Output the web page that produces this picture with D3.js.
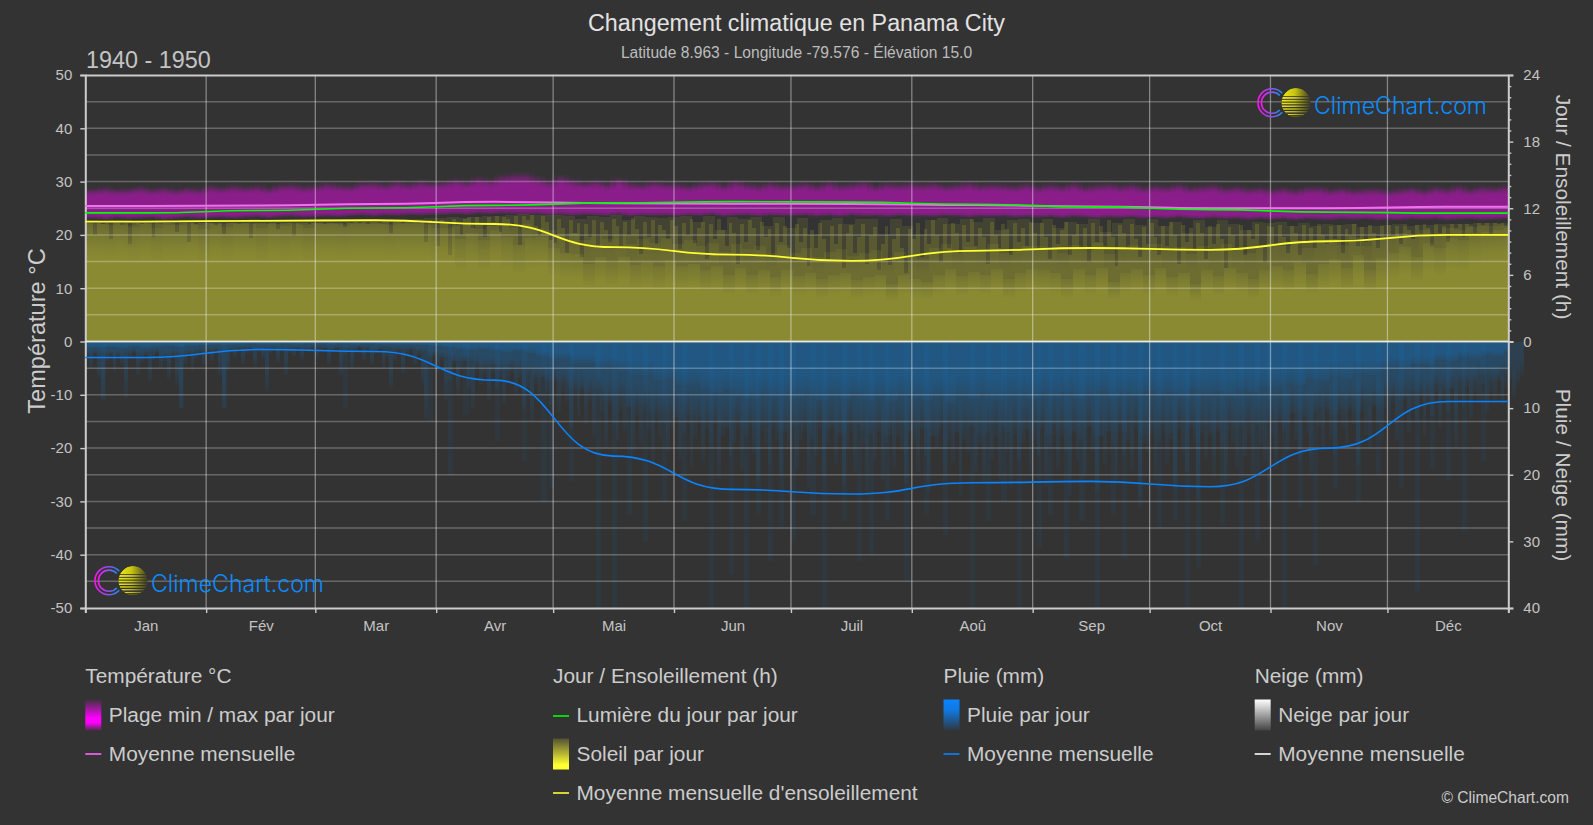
<!DOCTYPE html>
<html lang="fr"><head><meta charset="utf-8">
<title>Changement climatique en Panama City</title>
<script src="https://cdn.jsdelivr.net/npm/d3@7/dist/d3.min.js"></script>
<style>
html,body{margin:0;padding:0;background:#333;overflow:hidden}
svg{display:block}
text{font-family:"Liberation Sans",Arial,sans-serif}
</style></head><body><svg id="c" width="1593" height="825"></svg>
<script>
// ---------- data ----------
const months=["Jan","Fév","Mar","Avr","Mai","Jun","Juil","Aoû","Sep","Oct","Nov","Déc"];
const monthStart=[0,31,59,90,120,151,181,212,243,273,304,334,365];
const tempTicks=[50,40,30,20,10,0,-10,-20,-30,-40,-50];
const tempGrid=[45,35,25,15,5,-5,-15,-25,-35,-45];
const hourTicks=[0,6,12,18,24];
const hourMinor=[1,2,3,4,5,7,8,9,10,11,13,14,15,16,17,19,20,21,22,23];
const rainTicks=[10,20,30,40];

// monthly means (knots at mid-month)
const midMonth=[15.5,45,74.5,105,135.5,166,196.5,227.5,258,288.5,319,349.5];
const tempMean=[25.4,25.5,25.8,26.2,25.95,25.85,25.8,25.6,25.35,25.0,25.0,25.3];
const daylightMean=[11.58,11.8,12.02,12.26,12.48,12.6,12.55,12.36,12.12,11.88,11.65,11.56];
const sunMean=[10.8,10.87,10.92,10.58,8.5,7.82,7.26,8.17,8.42,8.26,9.03,9.6];
const rainMean=[2.4,1.2,1.5,5.8,17.2,22.2,22.9,21.2,21,21.8,16,9];
const snowMean=[0,0,0,0,0,0,0,0,0,0,0,0];

// three-day bins, 122 values
const tempMax=[
29.0,29.3,28.9,29.1,29.4,29.0,29.3,28.9,29.2,29.0,
29.6,29.3,29.7,29.4,29.6,29.2,29.8,29.9,29.5,
29.7,30.1,29.8,29.6,30.2,30.3,29.9,30.4,30.0,30.5,30.2,
30.4,30.9,30.5,31.2,30.8,31.6,31.9,32.0,31.3,30.6,
31.5,30.9,30.3,30.6,30.1,31.0,30.2,29.9,30.4,30.1,
30.0,29.6,30.1,30.4,29.8,30.6,30.0,29.7,30.2,29.8,
29.9,30.2,29.7,30.3,29.8,30.0,30.4,29.6,30.1,29.9,30.2,
29.9,30.2,29.6,29.9,30.3,29.7,30.0,29.8,29.6,30.0,
29.5,29.9,29.6,30.1,29.4,29.8,30.0,29.6,29.9,29.4,
29.7,29.5,29.9,29.3,29.6,29.8,29.2,29.5,29.1,29.3,
28.9,29.2,28.8,29.3,29.4,28.9,29.2,28.8,29.0,29.1,
28.7,29.0,29.3,28.8,29.4,29.1,29.6,29.0,29.5,29.3,29.6];
const tempMin=[
23.0,22.8,23.1,22.9,23.0,23.1,22.8,23.0,23.2,23.0,
23.1,23.2,23.0,23.2,23.3,23.1,23.3,23.4,23.2,
23.3,23.4,23.3,23.5,23.6,23.4,23.6,23.5,23.7,23.6,23.7,
23.7,23.8,23.7,23.9,23.8,23.9,23.8,23.7,23.8,23.6,
23.7,23.5,23.7,23.6,23.5,23.7,23.4,23.6,23.5,23.6,
23.4,23.6,23.5,23.7,23.4,23.5,23.6,23.4,23.6,23.5,
23.5,23.6,23.4,23.5,23.3,23.6,23.4,23.5,23.3,23.5,23.4,
23.4,23.3,23.5,23.4,23.2,23.4,23.3,23.4,23.2,23.3,
23.2,23.3,23.1,23.3,23.2,23.0,23.2,23.1,23.2,23.0,
23.1,23.0,23.2,23.0,22.9,23.1,22.9,23.0,22.8,23.0,
22.8,22.9,22.7,22.9,22.8,22.7,22.9,22.8,22.9,22.7,
22.8,22.7,22.9,22.8,22.9,22.7,22.8,22.9,22.7,22.8,22.9];

const sunTop=[
10.9,10.8,10.9,10.9,10.8,10.9,10.9,10.8,10.9,10.9,
10.9,10.9,10.8,10.9,11.0,10.9,10.9,10.9,10.9,
10.9,11.0,10.9,10.9,11.0,11.0,10.9,11.0,11.0,11.0,11.1,
11.1,11.2,11.1,11.2,11.3,11.3,11.4,11.5,11.4,11.4,
11.4,11.3,11.0,11.3,11.2,11.4,10.9,11.3,11.2,11.1,
11.2,11.3,10.8,11.3,10.0,11.2,11.0,11.2,10.4,11.2,
10.2,11.1,9.6,10.9,11.1,10.6,11.0,11.0,9.6,11.0,10.4,
9.6,10.9,11.1,10.6,11.0,10.8,11.1,10.0,10.9,11.0,
10.7,11.0,10.2,10.8,10.6,11.0,9.9,10.7,11.0,10.5,
11.0,10.4,10.8,9.8,10.9,10.3,10.9,10.6,10.0,10.8,
10.7,10.8,10.4,10.7,10.4,10.6,10.5,10.6,10.3,10.4,
10.5,10.6,10.4,10.5,10.5,10.6,10.6,10.6,10.7,10.7,10.7];
const sunMid=[
10.7,10.6,10.7,10.5,10.7,10.6,10.7,10.6,10.7,10.5,
10.7,10.6,10.7,10.7,10.6,10.7,10.6,10.7,10.5,
10.7,10.7,10.6,10.7,10.7,10.7,10.6,10.7,10.7,10.7,10.5,
10.6,10.4,10.5,10.1,10.4,10.5,10.2,10.6,10.2,10.0,
9.7,9.8,9.1,9.5,9.2,9.6,8.8,9.2,8.9,9.3,
8.8,9.1,8.6,8.9,8.1,8.8,8.3,8.6,8.0,8.7,
8.0,8.4,7.6,8.1,8.3,7.7,8.0,8.2,7.4,8.1,7.7,
7.4,8.4,8.8,8.1,8.5,8.3,8.8,8.0,8.4,8.6,
8.6,8.4,8.0,8.7,8.3,8.9,7.9,8.5,8.7,8.4,
8.8,8.2,8.5,7.9,8.6,8.2,8.8,8.4,8.0,8.6,
8.9,8.6,9.1,8.4,8.9,9.2,8.7,9.4,8.6,9.3,
9.5,9.8,9.3,10.0,9.7,10.2,10.0,10.3,10.4,10.4,10.5];
const sunFull=[
10.6,10.5,10.6,10.3,10.6,10.2,10.5,10.5,10.6,10.1,
10.6,10.3,10.6,10.6,10.2,10.6,10.4,10.6,10.2,
10.6,10.6,10.5,10.6,10.6,10.6,10.5,10.6,10.6,10.6,10.2,
10.2,9.2,9.8,9.1,10.0,9.4,8.7,9.3,9.4,8.4,
8.0,7.9,7.0,7.6,7.2,7.6,6.9,7.2,6.8,7.3,
6.8,7.0,6.4,6.8,6.0,6.6,6.0,6.4,5.8,6.4,
5.9,6.2,5.6,6.0,6.2,5.5,5.8,6.0,5.2,6.0,5.6,
5.4,6.0,6.5,5.9,6.3,6.0,6.5,5.6,6.2,6.5,
6.4,6.2,5.6,6.5,6.0,6.6,5.4,6.2,6.5,6.0,
6.6,5.8,6.2,5.2,6.4,5.9,6.6,6.2,5.6,6.4,
6.8,6.4,7.2,6.1,7.0,7.4,6.6,7.8,6.4,7.5,
8.0,8.5,7.6,8.9,8.4,9.3,9.1,9.7,9.9,10.0,10.2];
// one value per day (365)
const sunDaily=[
10.7,10.7,9.6,10.7,10.6,10.7,9.2,10.7,10.7,10.5,10.7,8.8,10.7,10.7,10.6,10.7,10.7,9.4,10.7,10.6,10.7,10.7,10.7,9.9,10.7,10.7,9.0,10.7,10.6,10.7,10.7,
10.7,10.7,10.5,10.7,9.7,10.7,10.7,10.7,10.6,10.7,10.7,9.3,10.7,10.7,10.7,10.6,10.7,10.7,10.1,10.7,10.7,10.7,9.5,10.7,10.7,10.7,10.6,
10.7,10.7,10.7,10.6,10.7,10.7,10.7,10.7,10.3,10.7,10.7,10.8,10.7,10.8,10.6,10.8,10.8,10.7,10.8,10.8,9.8,10.8,10.8,10.7,10.8,10.8,10.8,10.7,10.8,9.0,10.9,10.8,
8.6,10.9,10.8,7.8,11.0,10.5,9.6,11.0,11.2,10.2,11.2,10.7,9.4,11.2,10.8,11.3,9.9,11.2,11.0,10.4,11.3,8.7,11.3,10.9,11.4,10.4,9.5,11.3,10.8,9.1,
8.9,11.0,10.2,8.0,10.9,9.8,10.7,7.6,10.6,9.4,10.9,8.4,10.8,10.0,9.0,11.0,10.4,8.6,10.8,9.6,11.1,10.1,7.9,10.8,9.4,10.9,8.8,10.5,10.0,9.2,10.9,
10.4,8.3,10.7,9.6,11.0,8.9,10.2,10.8,7.4,10.6,9.2,11.0,10.0,8.6,10.7,9.8,7.0,10.6,9.0,10.9,10.2,8.2,10.8,9.4,10.1,7.6,10.7,9.0,10.4,8.4,
7.6,10.6,9.0,10.2,6.8,10.0,8.4,10.7,9.2,7.4,10.4,8.8,10.6,6.6,9.8,10.5,8.0,9.4,10.6,7.0,9.6,10.3,6.4,8.8,10.4,6.9,9.2,10.2,8.4,6.2,10.1,
9.2,10.7,7.6,10.1,8.8,10.9,9.6,7.2,10.6,8.4,10.7,9.8,8.0,10.5,9.0,11.0,8.6,10.2,9.4,7.0,10.8,9.6,8.4,10.6,10.1,7.8,10.7,9.0,10.2,8.6,10.8,
9.8,8.2,10.7,9.4,7.4,10.5,8.8,10.0,10.8,7.8,9.6,10.6,8.4,10.2,7.2,10.7,9.0,10.4,8.6,10.9,9.4,6.8,10.5,9.8,8.2,10.6,9.2,7.6,10.3,8.8,
10.7,9.4,7.8,10.4,8.6,10.8,9.6,7.0,10.5,9.0,10.2,8.2,10.7,9.8,7.4,10.4,8.8,10.6,9.2,6.6,10.3,9.6,8.4,10.5,7.8,10.0,9.2,10.6,8.6,7.2,10.4,
10.3,8.6,10.5,9.4,8.0,10.4,9.8,7.8,10.5,9.0,10.2,8.4,10.6,9.6,8.8,10.4,9.2,10.5,8.0,10.1,9.6,10.6,8.6,10.3,9.0,10.5,9.8,8.4,10.4,9.4,
10.5,9.6,10.4,8.8,10.6,10.0,9.2,10.5,9.4,10.6,10.2,8.6,10.6,9.8,10.4,9.0,10.6,10.2,10.6,9.4,10.6,10.4,9.8,10.7,10.5,10.7,9.6,10.7,10.6,10.7,10.4];

const rainFull=[
1.0,0.9,1.0,0.8,1.0,0.8,0.7,0.9,0.7,0.6,
0.5,0.6,0.5,0.4,0.5,0.5,0.4,0.5,0.4,
0.4,0.5,0.4,0.5,0.4,0.5,0.5,0.5,0.5,0.6,0.7,
0.9,1.1,1.3,1.1,1.4,1.6,1.4,1.7,2.2,2.6,
2.6,3.2,3.2,4.0,3.8,4.5,5.0,5.0,5.8,5.6,
6.6,6.4,7.2,7.8,7.2,8.2,8.6,7.8,8.4,8.2,
8.4,7.8,8.8,8.2,8.6,7.8,8.8,8.2,9.0,8.0,8.4,
8.8,8.2,9.2,8.0,8.6,7.8,8.8,8.2,8.0,8.6,
7.8,8.4,7.6,8.6,8.0,7.4,8.4,7.8,8.2,7.4,
8.0,7.6,8.4,7.2,7.8,7.4,8.2,7.2,7.6,6.8,
6.8,6.2,6.6,5.6,6.0,5.2,5.6,4.8,5.0,4.4,
3.8,4.2,3.4,3.6,2.8,3.0,2.4,2.6,2.0,2.2,1.6];
const rainMid=[
2.0,1.9,2.2,1.7,2.0,1.6,2.2,1.8,1.8,1.4,
1.3,1.5,1.2,1.0,1.4,1.1,1.2,1.0,1.1,
0.9,1.2,1.0,1.1,0.9,1.3,1.0,1.2,1.2,1.5,2.0,
2.4,3.0,3.0,3.8,3.6,4.4,3.8,4.4,5.4,6.0,
6.0,7.0,7.8,7.2,8.8,8.4,9.8,9.6,10.8,10.4,
11.6,11.0,12.4,11.8,13.0,11.8,13.2,12.6,12.2,13.4,
12.6,13.6,12.0,13.0,13.8,12.4,13.4,12.8,14.0,12.6,13.4,
13.0,14.2,12.4,13.6,12.8,14.0,12.6,13.6,13.0,13.4,
12.4,14.0,13.2,13.8,12.8,14.2,13.4,13.6,12.2,14.0,
13.0,13.8,12.0,13.2,12.6,13.6,12.0,12.8,11.6,12.4,
11.6,12.4,10.8,11.8,9.8,11.0,10.2,10.6,9.0,10.0,
8.4,8.8,7.4,8.0,6.4,7.0,5.8,6.0,5.0,5.6,4.4];
// one value per day (365)
const rainDaily=[
2.5,4.0,1.8,5.5,8.5,3.0,2.2,4.6,2.0,3.5,8.5,2.6,1.6,5.0,3.2,2.0,6.0,2.8,1.8,4.2,3.0,5.6,2.4,6.5,10.0,3.4,2.0,4.4,2.6,1.8,3.6,
1.6,3.0,1.4,5.0,10.0,4.5,1.6,2.4,1.2,3.4,1.8,1.4,3.8,1.6,2.6,7.5,1.8,1.2,3.2,1.4,5.0,1.8,2.2,1.2,2.8,1.4,1.8,
1.2,2.6,1.4,1.0,3.4,1.6,1.2,5.0,2.0,1.4,4.2,1.6,1.0,2.8,1.4,3.6,1.8,1.2,4.0,2.4,7.0,3.0,1.6,4.8,2.2,1.4,3.6,2.0,6.4,11.5,3.4,2.4,
4.6,2.8,9.0,6.0,3.4,8.0,4.2,3.0,7.0,10.0,3.8,6.4,5.0,8.8,4.6,7.2,5.4,9.4,6.0,4.8,8.0,5.6,10.2,7.0,12.0,6.4,8.8,5.4,7.6,9.6,
6.0,10.6,7.6,9.0,13.0,8.2,11.4,7.2,12.4,9.0,14.2,8.6,10.8,16.0,9.6,12.6,15.0,10.4,13.4,9.8,17.0,11.2,15.4,10.4,13.2,18.4,11.6,14.4,12.2,16.4,13.0,
11.4,17.6,13.8,12.2,19.0,14.6,11.8,18.2,13.2,15.8,12.4,20.6,14.2,12.8,17.4,15.2,13.0,19.4,14.4,12.2,16.8,21.0,13.4,15.6,18.6,12.8,14.8,20.0,13.6,16.2,
13.0,19.2,15.0,12.6,22.0,14.6,17.0,13.2,20.4,15.6,12.8,18.4,14.2,21.6,16.0,13.4,19.8,12.6,15.4,22.8,14.0,17.8,13.6,20.8,15.2,12.8,18.8,14.4,16.4,21.2,13.4,
15.2,19.6,13.2,17.2,22.4,14.2,16.0,12.8,20.2,15.0,18.2,13.8,23.0,14.8,16.8,12.6,19.8,15.6,21.4,13.6,17.6,14.4,20.6,12.8,16.2,22.2,14.0,18.0,15.4,13.2,20.4,
14.6,17.4,13.0,21.8,15.8,12.4,19.2,14.2,16.6,23.2,13.4,17.8,15.0,20.0,12.8,16.4,22.6,14.4,18.6,13.6,15.8,21.0,12.6,17.0,14.8,19.4,13.2,23.4,15.4,16.6,
13.8,20.8,15.0,12.4,18.4,14.6,22.0,13.2,16.8,19.6,12.6,15.4,23.6,13.8,17.6,14.2,20.4,12.8,16.0,21.8,13.4,15.2,18.8,12.2,17.2,14.0,20.0,12.6,15.6,18.0,11.8,
14.4,19.2,11.6,13.4,16.6,10.8,15.0,18.0,11.4,13.8,20.0,10.6,12.8,16.0,10.2,14.6,17.4,11.0,13.0,15.2,9.8,12.4,18.6,10.4,14.0,16.2,9.6,12.2,14.8,10.0,
12.6,9.2,15.0,11.0,8.4,13.6,9.8,12.0,8.0,14.4,9.4,11.2,7.6,12.8,8.6,10.4,7.2,15.8,8.2,9.8,6.8,11.6,7.8,9.2,6.4,10.8,7.4,8.8,6.0,9.6,7.0,5.6,8.4,6.2,5.0];
// isolated wet days, [day, mm]
const rainSpikes=[[4,9],[24,10],[35,10],[66,10],[88,12],[93,20],[97,11],[105,15],[112,18],[117,24],[119,22],[124,21],[131,40],[135,40],[139,26],[143,30],
[148,24],[153,27],[160,40],[165,35],[169,40],[172,26],[175,33],[178,28],[181,30],[186,26],[189,40],[194,27],[198,33],[201,32],[205,27],[210,36],[215,26],[220,29],[227,40],[231,27],[235,24],
[239,40],[244,31],[247,26],[251,32.5],[255,27],[259,40],[263,26],[266,32.5],[270,25],[275,28],[279,27],[282,40],[285,34],[291,27.5],[296,40],[300,30],[303,25],[307,40],[311,25],[315,33.5],[320,22],[326,24],[331,20],[337,22],[341,37.5],[345,19],[349,21],[353,28.5],[358,18]];

// ---------- geometry ----------
const W=1593,H=825,L=85.3,R=1508.3,T=75,B=608;
const svg=d3.select("#c");
const x=d3.scaleLinear().domain([0,365]).range([L,R]);
const yT=d3.scaleLinear().domain([-50,50]).range([B,T]);
const yH=d3.scaleLinear().domain([0,24]).range([yT(0),T]);
const yR=d3.scaleLinear().domain([0,40]).range([yT(0),B]);
const binDay=(i,o)=>i===0?0:Math.max(0,Math.min(i*365/122+o,365));

svg.append("rect").attr("width",W).attr("height",H).attr("fill","#333");

const defs=svg.append("defs");
function grad(id,stops,horizontal){
  const g=defs.append("linearGradient").attr("id",id).attr("x1",0).attr("y1",0)
    .attr("x2",horizontal?1:0).attr("y2",horizontal?0:1);
  stops.forEach(s=>g.append("stop").attr("offset",s[0]).attr("stop-color",s[1]).attr("stop-opacity",s[2]));
}
const rainColor="#0a86e8", sunColor="#ffff33";
grad("tempBand",[[0,"#ff00ff",0],[.08,"#ff00ff",.05],[.17,"#ff00ff",.15],[.24,"#ff00ff",.22],[.31,"#ff00ff",.245],[.88,"#ff00ff",.245],[.95,"#ff00ff",.13],[1,"#ff00ff",.01]]);
grad("sunFullFade",[[0,sunColor,.05],[.3,sunColor,.2],[1,sunColor,.2]]);
grad("sunMidFade",[[0,sunColor,.06],[.2,sunColor,.12],[1,sunColor,.12]]);
grad("rainFullFade",[[0,rainColor,.22],[.6,rainColor,.22],[1,rainColor,.05]]);
grad("rainMidFade",[[0,rainColor,.14],[.65,rainColor,.14],[1,rainColor,.03]]);
grad("rainDayFade",[[0,rainColor,.16],[.55,rainColor,.15],[1,rainColor,.05]]);
grad("lgTemp",[[0,"#ff00ff",.05],[.6,"#ff00ff",1],[.75,"#ff00ff",1],[1,"#ff00ff",.1]]);
grad("lgSun",[[0,"#ffff33",.15],[.85,"#ffff33",1],[1,"#ffff33",1]]);
grad("lgRain",[[0,"#0a84ff",1],[.35,"#0a84ff",.85],[1,"#0a84ff",.05]]);
grad("lgSnow",[[0,"#ffffff",1],[1,"#ffffff",.08]]);
grad("cRing",[[0,"#ff10f0",1],[.55,"#9050f0",1],[1,"#1890f0",1]],true);
grad("sunDisc",[[0,"#f2ec10",1],[.45,"#c8c414",1],[1,"#3e3c22",1]],true);

// ---------- daily bars ----------
const plot=svg.append("g").attr("shape-rendering","crispEdges");
function binLayer(values,fill,opacity,o,sc,down){
  plot.append("g").selectAll("rect").data(values).join("rect")
    .attr("x",(d,i)=>x(binDay(i,o))).attr("width",(d,i)=>x(binDay(i+1,o))-x(binDay(i,o)))
    .attr("y",d=>down?sc(0):sc(d)).attr("height",d=>Math.abs(sc(d)-sc(0)))
    .attr("fill",fill).attr("fill-opacity",opacity);
}
function dayLayer(values,fill,opacity,sc,down){
  plot.append("g").selectAll("rect").data(values).join("rect")
    .attr("x",(d,i)=>x(i)).attr("width",(d,i)=>x(i+1)-x(i))
    .attr("y",d=>down?sc(0):sc(d)).attr("height",d=>Math.abs(sc(d)-sc(0)))
    .attr("fill",fill).attr("fill-opacity",opacity);
}
// temperature, drawn twice half a bin apart to soften the steps
[0,1.5].forEach(o=>{
  plot.append("g").selectAll("rect").data(tempMax).join("rect")
    .attr("x",(d,i)=>x(binDay(i,o))).attr("width",(d,i)=>x(binDay(i+1,o))-x(binDay(i,o)))
    .attr("y",d=>yT(d)).attr("height",(d,i)=>yT(tempMin[i])-yT(d))
    .attr("fill","url(#tempBand)");
});
// sun
binLayer(sunTop,sunColor,.08,0,yH);
dayLayer(sunDaily,sunColor,.12,yH);
binLayer(sunMid,"url(#sunMidFade)",1,1,yH);
binLayer(sunFull,"url(#sunFullFade)",1,2,yH);
// rain
plot.append("g").selectAll("rect").data(rainSpikes).join("rect")
  .attr("x",d=>x(d[0])).attr("width",x(1.3)-x(0))
  .attr("y",yR(0)).attr("height",d=>yR(d[1])-yR(0))
  .attr("fill",rainColor).attr("fill-opacity",.07);
dayLayer(rainDaily,"url(#rainDayFade)",1,yR,true);
binLayer(rainMid,"url(#rainMidFade)",1,1,yR,true);
binLayer(rainFull,"url(#rainFullFade)",1,2,yR,true);

// ---------- grid ----------
const grid=svg.append("g");
grid.selectAll("line.h").data(tempTicks.concat(tempGrid).filter(d=>Math.abs(d)<50&&d!==0)).join("line")
  .attr("x1",L).attr("x2",R).attr("y1",d=>yT(d)).attr("y2",d=>yT(d))
  .attr("stroke","#fff").attr("stroke-opacity",.26).attr("stroke-width",1.5);
grid.selectAll("line.v").data(monthStart.slice(1,12)).join("line")
  .attr("x1",d=>x(d)).attr("x2",d=>x(d)).attr("y1",T).attr("y2",B)
  .attr("stroke","#fff").attr("stroke-opacity",.4).attr("stroke-width",1.3);

// ---------- axes ----------
function styleAxis(g){
  g.select(".domain").attr("stroke","#ccc").attr("stroke-width",2);
  g.selectAll(".tick line").attr("stroke","#ccc").attr("stroke-width",1.4);
  g.selectAll(".tick text").attr("fill","#c4c4c4").attr("font-size",15)
    .attr("font-family",'"Liberation Sans",Arial,sans-serif');
}
const axisL=svg.append("g").attr("transform",`translate(${L},0)`)
  .call(d3.axisLeft(yT).tickValues(tempTicks).tickSize(5).tickPadding(8).tickFormat(d3.format("d")));
styleAxis(axisL); axisL.selectAll(".tick text").text(d=>String(d));
const axisH=svg.append("g").attr("transform",`translate(${R},0)`)
  .call(d3.axisRight(yH).tickValues(hourTicks).tickSize(5).tickPadding(10));
styleAxis(axisH);
const axisHm=svg.append("g").attr("transform",`translate(${R},0)`)
  .call(d3.axisRight(yH).tickValues(hourMinor).tickSize(3).tickFormat(""));
styleAxis(axisHm); axisHm.select(".domain").remove();
const axisRn=svg.append("g").attr("transform",`translate(${R},0)`)
  .call(d3.axisRight(yR).tickValues(rainTicks).tickSize(5).tickPadding(10));
styleAxis(axisRn);
const axisB=svg.append("g").attr("transform",`translate(0,${B})`)
  .call(d3.axisBottom(x).tickValues(monthStart).tickSize(5).tickFormat(""));
styleAxis(axisB);
const monthMid=months.map((m,i)=>(monthStart[i]+monthStart[i+1])/2);
const axisM=svg.append("g").attr("transform",`translate(0,${B})`)
  .call(d3.axisBottom(x).tickValues(monthMid).tickSize(0).tickFormat((d,i)=>months[i]));
styleAxis(axisM); axisM.select(".domain").remove();
axisM.selectAll(".tick text").attr("dy","0.71em").attr("y",12);
const axisTop=svg.append("g").attr("transform",`translate(0,${T})`)
  .call(d3.axisTop(x).tickValues([]).tickSize(0));
styleAxis(axisTop);
svg.append("line").attr("x1",L).attr("x2",R).attr("y1",yT(0)).attr("y2",yT(0))
  .attr("stroke","#d4d4cc").attr("stroke-width",2.2);

// ---------- monthly mean lines ----------
function meanLine(values,y,color,w){
  const pts=[[0,values[0]]].concat(values.map((v,i)=>[midMonth[i],v]),[[365,values[11]]]);
  const gen=d3.line().x(d=>x(d[0])).y(d=>y(d[1])).curve(d3.curveBumpX);
  svg.append("path").attr("d",gen(pts)).attr("fill","none").attr("stroke",color).attr("stroke-width",w);
}
meanLine(snowMean,yR,"#e8e8e0",1.2);
meanLine(tempMean,yT,"#f070f0",2);
meanLine(daylightMean,yH,"#00ff00",1.6);
meanLine(sunMean,yH,"#ffff33",1.8);
meanLine(rainMean,yR,"#0a84ff",1.6);

// ---------- titles ----------
function label(txt,px,py,size,fill,anchor,rot){
  const t=svg.append("text").text(txt).attr("font-size",size).attr("fill",fill)
    .attr("text-anchor",anchor||"start");
  if(rot) t.attr("transform",`translate(${px},${py}) rotate(${rot})`);
  else t.attr("x",px).attr("y",py);
  return t;
}
label("Changement climatique en Panama City",796.5,30.5,23.3,"#e2e2e2","middle");
label("Latitude 8.963 - Longitude -79.576 - Élévation 15.0",796.5,57.5,15.6,"#bdbdbd","middle");
label("1940 - 1950",86,68,23.4,"#c4c4c4");
label("Température °C",45,331,23.6,"#ccc","middle",-90);
label("Jour / Ensoleillement (h)",1555.5,207,20.85,"#ccc","middle",90);
label("Pluie / Neige (mm)",1555.5,475,20.85,"#ccc","middle",90);

// ---------- legend ----------
const ink="#ccc";
function head(t,px){label(t,px,683,20.85,ink);}
function item(t,px,cy){label(t,px+23.5,cy+7,20.85,ink);}
function swatch(px,cy,id){svg.append("rect").attr("x",px).attr("y",cy-15.5).attr("width",16).attr("height",31).attr("fill",`url(#${id})`);}
function dash(px,cy,c){svg.append("line").attr("x1",px).attr("x2",px+16).attr("y1",cy).attr("y2",cy).attr("stroke",c).attr("stroke-width",1.6);}
const c1=85.3,c2=553,c3=943.5,c4=1254.7;
head("Température °C",c1); swatch(c1,715,"lgTemp"); item("Plage min / max par jour",c1,715);
dash(c1,754,"#ff66ff"); item("Moyenne mensuelle",c1,754);
head("Jour / Ensoleillement (h)",c2); dash(c2,716,"#00ff00"); item("Lumière du jour par jour",c2,715);
swatch(c2,754,"lgSun"); item("Soleil par jour",c2,754);
dash(c2,793,"#ffff33"); item("Moyenne mensuelle d'ensoleillement",c2,793);
head("Pluie (mm)",c3); swatch(c3,715,"lgRain"); item("Pluie par jour",c3,715);
dash(c3,754,"#0a84ff"); item("Moyenne mensuelle",c3,754);
head("Neige (mm)",c4); swatch(c4,715,"lgSnow"); item("Neige par jour",c4,715);
dash(c4,754,"#fff"); item("Moyenne mensuelle",c4,754);
label("© ClimeChart.com",1569,802.5,15.6,"#ccc","end");

// ---------- logos ----------
function logo(sx,sy,id){
  const g=svg.append("g").attr("transform",`translate(${sx},${sy})`);
  [[14.8,13.2],[11.4,9.8]].forEach(r=>{
    g.append("path").attr("transform","translate(-24,0)")
      .attr("d",d3.arc().innerRadius(r[1]).outerRadius(r[0]).startAngle(Math.PI/2+.75).endAngle(Math.PI/2+2*Math.PI-.75)())
      .attr("fill","url(#cRing)");
  });
  defs.append("clipPath").attr("id",id).append("circle").attr("r",14.6);
  const s=g.append("g").attr("clip-path",`url(#${id})`);
  s.append("circle").attr("r",14.6).attr("fill","url(#sunDisc)");
  d3.range(-6.5,15,2.7).forEach((d,i)=>{
    s.append("rect").attr("x",-15).attr("y",d).attr("width",30).attr("height",.8+i*.12).attr("fill","#333");
  });
  g.append("text").text("ClimeChart.com").attr("x",18).attr("y",11)
    .attr("font-size",23.5).attr("fill","#0a8cff").attr("font-weight",300)
    .attr("style",'font-family:Inter,Lato,sans-serif')
    .attr("textLength",173).attr("lengthAdjust","spacingAndGlyphs");
}
logo(1296,102.7,"sunClipA");
logo(133,580.7,"sunClipB");
</script></body></html>
